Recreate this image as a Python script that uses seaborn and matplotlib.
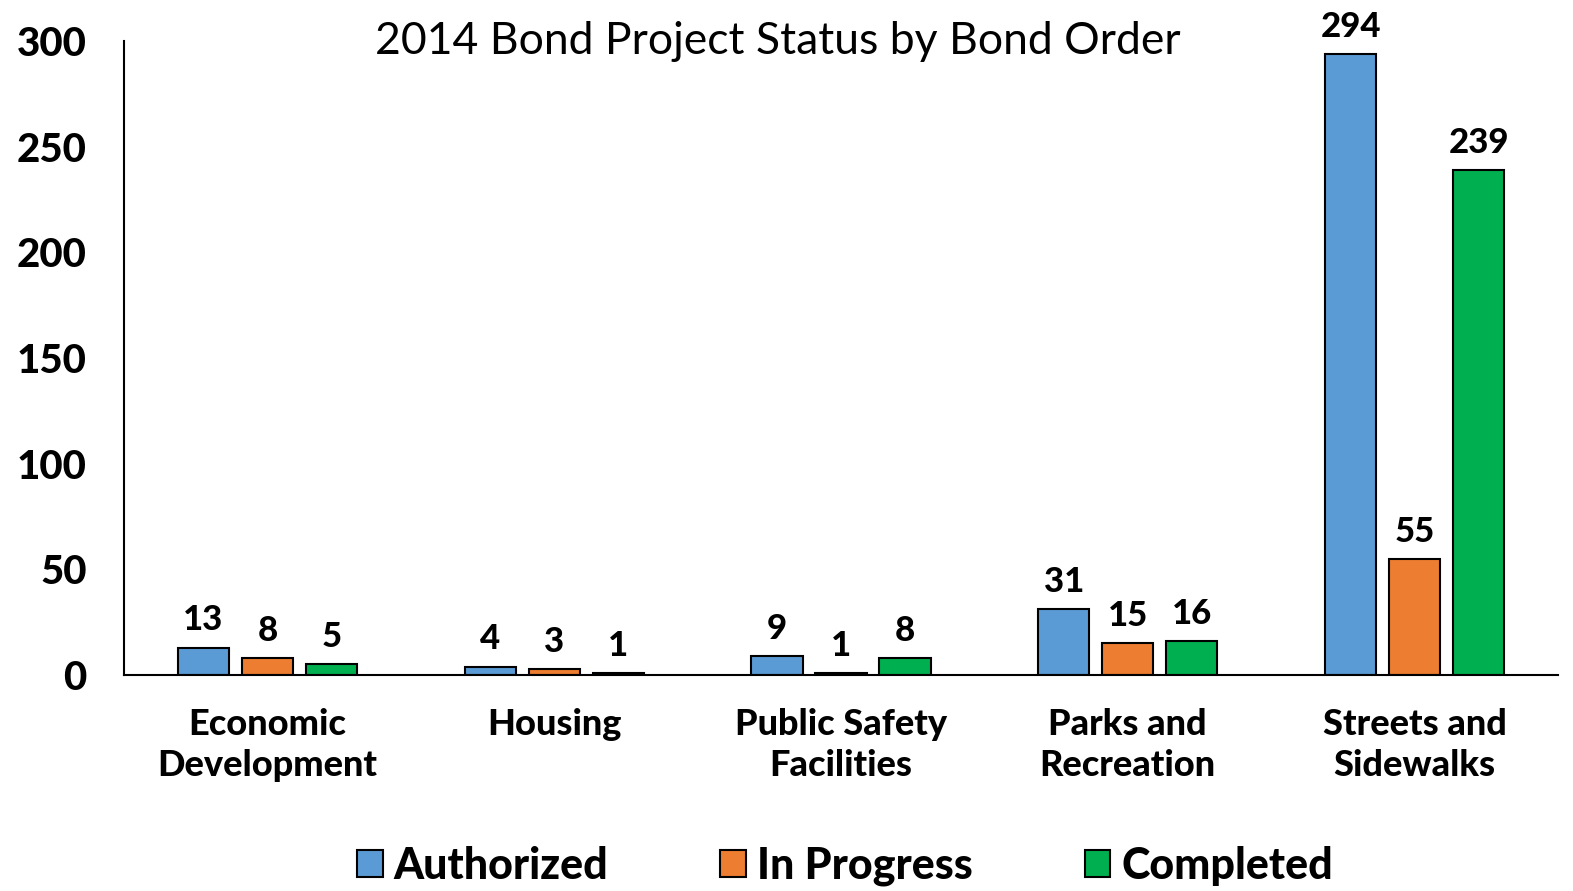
import matplotlib
matplotlib.use("Agg")
import matplotlib.pyplot as plt
import seaborn as sns
import pandas as pd

categories = ["Economic\nDevelopment", "Housing", "Public Safety\nFacilities", "Parks and\nRecreation", "Streets and\nSidewalks"]
authorized = [13, 4, 9, 31, 294]
in_progress = [8, 3, 1, 15, 55]
completed = [5, 1, 8, 16, 239]
series_names = ["Authorized", "In Progress", "Completed"]
colors = ["#5B9BD5", "#ED7D31", "#00B050"]
yticks = [0, 50, 100, 150, 200, 250, 300]

rows = []
for name, vals in zip(series_names, [authorized, in_progress, completed]):
    for c, v in zip(categories, vals):
        rows.append({"Category": c, "Status": name, "Count": v})
df = pd.DataFrame(rows)

sns.set_theme(style="white")
plt.rcParams['font.family'] = ['Lato', 'DejaVu Sans']
plt.rcParams['text.color'] = 'black'
plt.rcParams['xtick.color'] = 'black'
plt.rcParams['ytick.color'] = 'black'

fig = plt.figure(figsize=(15.73, 8.91), dpi=100)
ax = fig.add_axes([124/1573, 1-675/891, (1558-124)/1573, (675-41)/891])

sns.barplot(data=df, x="Category", y="Count", hue="Status", order=categories,
            hue_order=series_names, palette=colors, saturation=1, width=0.67, gap=0.2,
            edgecolor="black", linewidth=1.5, errorbar=None, ax=ax, legend=True)

for cont in ax.containers:
    ax.bar_label(cont, labels=[f"{int(v)}" for v in cont.datavalues], padding=8,
                 fontsize=25, fontweight="black", color="black")

ax.set_ylim(0, 300)
ax.set_xlim(-0.5, 4.5)
ax.set_yticks(yticks)
ax.set_yticklabels([str(t) for t in yticks], fontsize=29, fontweight="black")
ax.set_xticks(range(len(categories)))
ax.set_xticklabels(categories, fontsize=26, fontweight="black", linespacing=1.3)
ax.tick_params(axis="y", length=0, pad=27, labelcolor="black")
ax.tick_params(axis="x", length=0, pad=24, labelcolor="black")
ax.set_xlabel("")
ax.set_ylabel("")
for s in ["top", "right"]:
    ax.spines[s].set_visible(False)
for s in ["left", "bottom"]:
    ax.spines[s].set_color("black")
    ax.spines[s].set_linewidth(1.5)

fig.text(778/1573, 1-42/891, "2014 Bond Project Status by Bond Order", ha="center", va="center",
         fontsize=32, fontweight="normal", color="black")

handles, labels = ax.get_legend_handles_labels()
ax.legend_.remove()
leg = fig.legend(handles, labels, loc="center", bbox_to_anchor=(845/1573, 1-866/891), ncol=3,
                 frameon=False, prop={"size": 31, "weight": "black"}, handlelength=0.6,
                 handleheight=0.6, handletextpad=0.25, columnspacing=2.6, labelcolor="black")

fig.savefig("out.png", dpi=100)
